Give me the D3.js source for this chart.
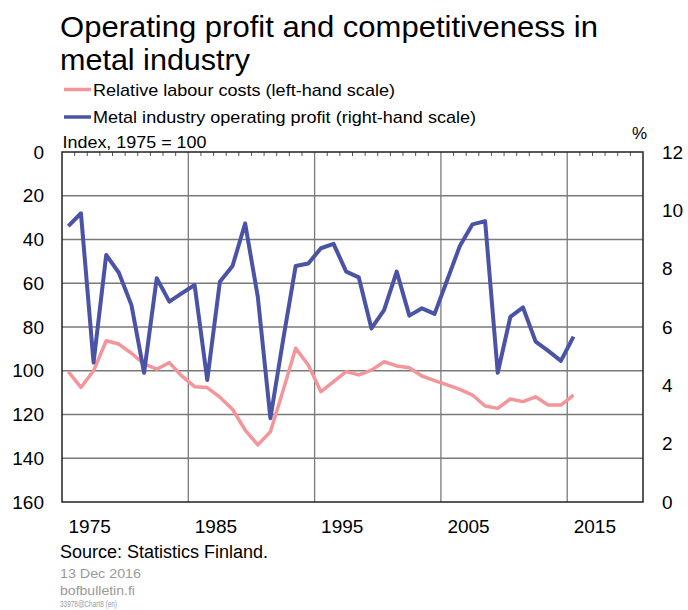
<!DOCTYPE html>
<html>
<head>
<meta charset="utf-8">
<script src="https://cdn.jsdelivr.net/npm/d3@7"></script>
<style>
  html, body { margin: 0; padding: 0; background: #fff; }
  svg { display: block; font-family: "Liberation Sans", Arial, sans-serif; }
</style>
</head>
<body>
<svg id="chart" width="688" height="610"></svg>
<script>
const years = d3.range(1975, 2016);
const labourCosts = [100.4, 107.6, 100.0, 86.3, 87.8, 92.0, 96.9, 99.3, 96.3, 102.5,
  107.3, 107.7, 112.1, 117.6, 127.1, 133.9, 127.9, 109.1, 89.7, 97.4,
  109.6, 105.0, 100.4, 101.9, 99.7, 95.9, 97.8, 98.6, 102.4, 104.5,
  106.5, 108.5, 111.1, 116.1, 117.2, 112.9, 114.1, 111.9, 115.7, 115.7, 111.1];
const operatingProfit = [9.46, 9.90, 4.78, 8.47, 7.86, 6.75, 4.43, 7.67, 6.87, 7.16,
  7.44, 4.18, 7.55, 8.09, 9.55, 7.04, 2.87, 5.54, 8.09, 8.18,
  8.70, 8.85, 7.90, 7.70, 5.95, 6.58, 7.90, 6.39, 6.64, 6.45,
  7.61, 8.78, 9.52, 9.63, 4.43, 6.35, 6.67, 5.50, 5.18, 4.84, 5.67];
const leftTicks = [0, 20, 40, 60, 80, 100, 120, 140, 160];
const rightTicks = [0, 2, 4, 6, 8, 10, 12];
const xTickYears = [1975, 1985, 1995, 2005, 2015];
const titleLines = ["Operating profit and competitiveness in", "metal industry"];
const seriesNames = ["Relative labour costs (left-hand scale)", "Metal industry operating profit (right-hand scale)"];
const colors = ["#F4959A", "#4A53A6"];

const svg = d3.select("#chart");
const L = 62, R = 643, T = 152, B = 502;

const x = d3.scaleLinear().domain([1975, 2021]).range([L, R]);
const yL = d3.scaleLinear().domain([0, 160]).range([T, B]);
const yR = d3.scaleLinear().domain([0, 12]).range([B, T]);

function fitText(sel, w) {
  sel.attr("textLength", w).attr("lengthAdjust", "spacingAndGlyphs");
}

// Title
const titleW = [538, 190];
svg.append("g").selectAll("text").data(titleLines).join("text")
  .attr("x", 60).attr("y", (d, i) => 37 + i * 33)
  .attr("font-size", 29).attr("fill", "#000")
  .attr("textLength", (d, i) => titleW[i]).attr("lengthAdjust", "spacingAndGlyphs")
  .text(d => d);

// Legend
const legW = [302, 383];
const leg = svg.append("g");
seriesNames.forEach((name, i) => {
  const yy = 89.5 + i * 27.5;
  leg.append("line").attr("x1", 64).attr("x2", 91).attr("y1", yy).attr("y2", yy)
    .attr("stroke", colors[i]).attr("stroke-width", 3.5);
  leg.append("text").attr("x", 93).attr("y", yy + 6).attr("font-size", 17).text(name)
    .call(fitText, legW[i]);
});

// Units
svg.append("text").attr("x", 62.5).attr("y", 148).attr("font-size", 17).text("Index, 1975 = 100")
  .call(fitText, 144);
svg.append("text").attr("x", 647).attr("y", 139).attr("font-size", 17).attr("text-anchor", "end").text("%");

// Horizontal gridlines
svg.append("g").selectAll("line").data(leftTicks.filter(d => d > 0 && d < 160)).join("line")
  .attr("x1", L).attr("x2", R).attr("y1", d => yL(d)).attr("y2", d => yL(d))
  .attr("stroke", "#7a7a7a").attr("stroke-width", 1.3);

// Vertical gridlines
svg.append("g").selectAll("line").data(xTickYears.filter(d => d > 1975)).join("line")
  .attr("x1", d => x(d)).attr("x2", d => x(d)).attr("y1", T).attr("y2", B)
  .attr("stroke", "#7a7a7a").attr("stroke-width", 1.3);

// Minor ticks at top (every year)
svg.append("g").selectAll("line").data(d3.range(1976, 2021).filter(d => !xTickYears.includes(d))).join("line")
  .attr("x1", d => x(d)).attr("x2", d => x(d)).attr("y1", T).attr("y2", T + 4)
  .attr("stroke", "#555").attr("stroke-width", 1);

// Series
const lineL = d3.line().x((d, i) => x(years[i] + 0.5)).y(d => yL(d));
const lineR = d3.line().x((d, i) => x(years[i] + 0.5)).y(d => yR(d));
svg.append("path").datum(labourCosts).attr("d", lineL)
  .attr("fill", "none").attr("stroke", colors[0]).attr("stroke-width", 3.5).attr("stroke-linejoin", "round");
svg.append("path").datum(operatingProfit).attr("d", lineR)
  .attr("fill", "none").attr("stroke", colors[1]).attr("stroke-width", 4).attr("stroke-linejoin", "round");

// Frame
svg.append("rect").attr("x", L).attr("y", T).attr("width", R - L).attr("height", B - T)
  .attr("fill", "none").attr("stroke", "#222").attr("stroke-width", 1.5);

// Axes
const axL = svg.append("g").attr("transform", `translate(${L},0)`)
  .call(d3.axisLeft(yL).tickValues(leftTicks).tickSize(0).tickPadding(18));
const axR = svg.append("g").attr("transform", `translate(${R},0)`)
  .call(d3.axisRight(yR).tickValues(rightTicks).tickSize(0).tickPadding(19));
const axB = svg.append("g").attr("transform", `translate(0,${B})`)
  .call(d3.axisBottom(x).tickValues(xTickYears).tickFormat(d3.format("d")).tickSize(0));
[axL, axR, axB].forEach(g => {
  g.select(".domain").remove();
  g.selectAll("text").attr("font-size", 19).attr("fill", "#000")
    .attr("font-family", "'Liberation Sans', Arial, sans-serif");
});
axB.selectAll("text").attr("text-anchor", "start").attr("dx", 6).attr("y", 31).attr("dy", 0);

// Footer
svg.append("text").attr("x", 60).attr("y", 558).attr("font-size", 18).text("Source: Statistics Finland.")
  .call(fitText, 208);
svg.append("text").attr("x", 60).attr("y", 577.5).attr("font-size", 13.5).attr("fill", "#9a9a9a").text("13 Dec 2016")
  .call(fitText, 81);
svg.append("text").attr("x", 60).attr("y", 594.5).attr("font-size", 13.5).attr("fill", "#9a9a9a").text("bofbulletin.fi")
  .call(fitText, 75);
svg.append("text").attr("x", 60).attr("y", 607).attr("font-size", 9).attr("fill", "#9a9a9a").text("33978@Chart8 (en)")
  .call(fitText, 57);
</script>
</body>
</html>
